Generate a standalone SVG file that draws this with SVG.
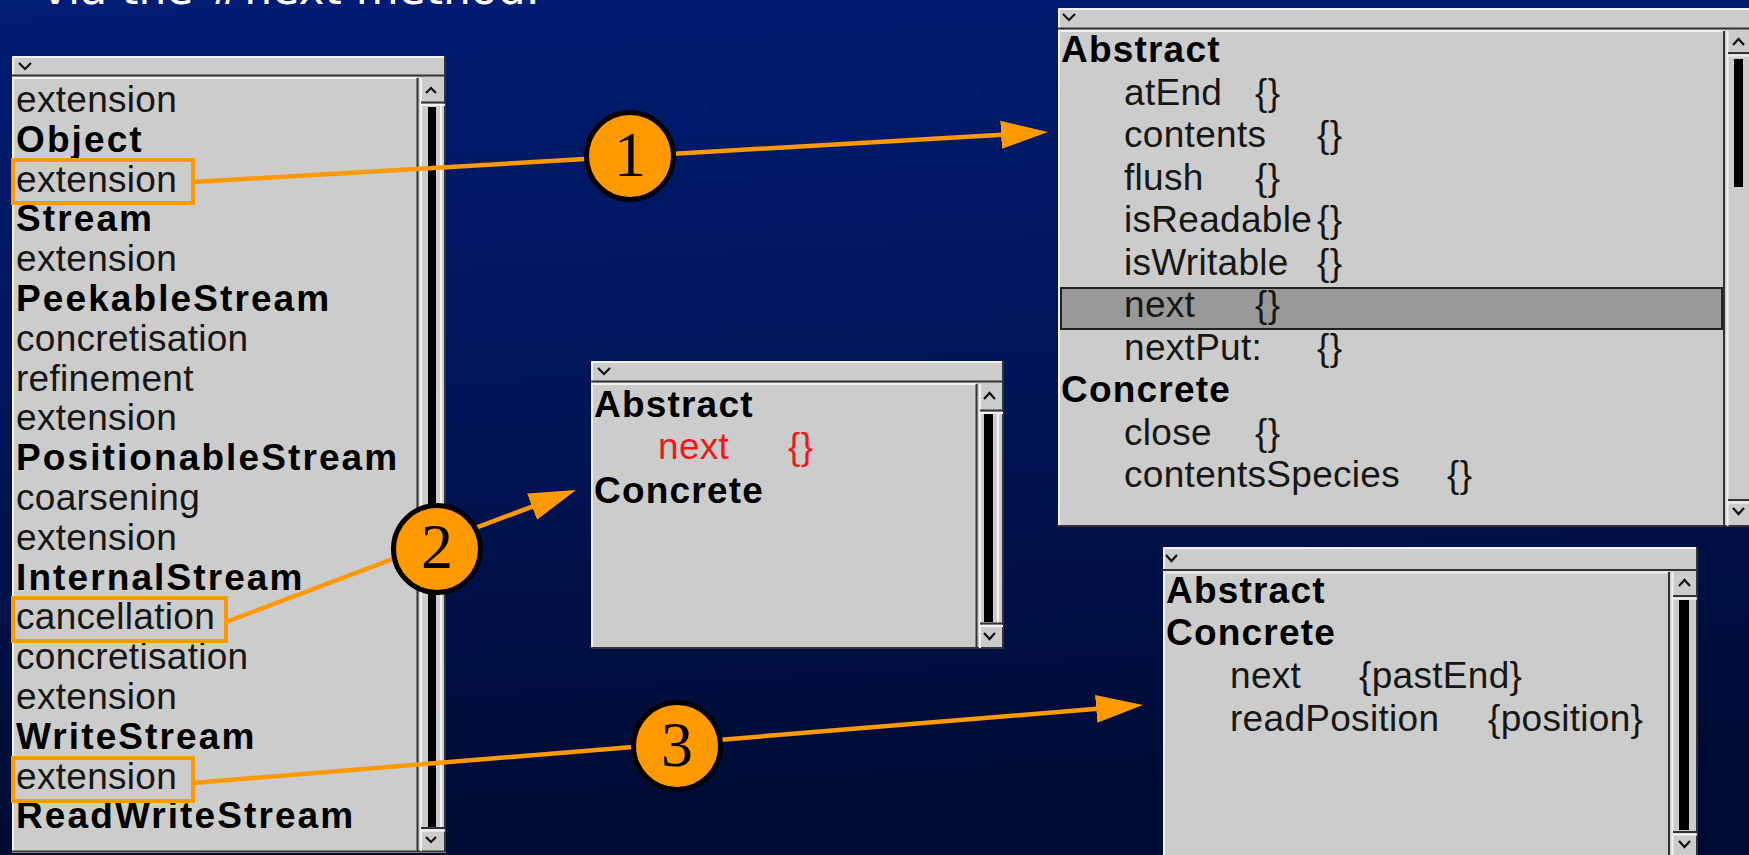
<svg xmlns="http://www.w3.org/2000/svg" width="1749" height="855" viewBox="0 0 1749 855">
<defs>
  <linearGradient id="bg" x1="0" y1="0" x2="0.12" y2="1">
    <stop offset="0" stop-color="#001d74"/>
    <stop offset="0.5" stop-color="#001558"/>
    <stop offset="1" stop-color="#000b33"/>
  </linearGradient>
  <marker id="head" markerUnits="userSpaceOnUse" markerWidth="48" markerHeight="30" viewBox="0 0 48 30" refX="1" refY="15" orient="auto">
    <path d="M0,1 L47,15 L0,29 z" fill="#ff9900"/>
  </marker>
  <style>
    .win { fill:#cccccc; }
    .dk { stroke:#333333; stroke-width:2; fill:none; }
    .lt { stroke:#f2f2f2; stroke-width:2; fill:none; }
    .thumb { fill:#000000; }
    .chev { fill:none; stroke:#111111; stroke-width:2.2; }
    .n { font-family:"Liberation Sans", Arial, sans-serif; font-size:37px; fill:#161616; letter-spacing:0.3px; }
    .b { font-family:"Liberation Sans", Arial, sans-serif; font-size:37px; font-weight:bold; fill:#000000; letter-spacing:1.2px; }
    .bl { letter-spacing:2.1px; }
    .red { fill:#f01818; }
    .sel { fill:#999999; stroke:#222222; stroke-width:2; }
    .hl { fill:none; stroke:#ff9900; stroke-width:4; }
    .conn { fill:none; stroke:#ff9900; stroke-width:4.5; marker-end:url(#head); }
    .badge { fill:#ff9900; stroke:#000000; stroke-width:5; }
    .num { font-family:"Liberation Serif", "Times New Roman", serif; font-size:64px; fill:#000000; text-anchor:middle; }
    .title { font-family:"DejaVu Sans", sans-serif; font-size:44px; fill:#ffffff; }
  </style>
</defs>

<!-- backdrop -->
<rect x="0" y="0" width="1749" height="855" fill="url(#bg)"/>

<!-- heading line, mostly above the top edge -->
<g id="heading">
  <text class="title" x="42" y="4">via the #next method.</text>
</g>

<!-- class list window -->
<g id="class-list">
  <rect class="win" x="12" y="56" width="434" height="797"/>
  <line class="lt" x1="13" y1="57" x2="445" y2="57"/>
  <line class="lt" x1="13" y1="57" x2="13" y2="851"/>
  <line class="dk" x1="12" y1="75.5" x2="446" y2="75.5"/>
  <line class="lt" x1="13" y1="78" x2="417" y2="78"/>
  <line class="dk" x1="445" y1="56" x2="445" y2="852"/>
  <line class="dk" x1="12" y1="851.5" x2="446" y2="851.5"/>
  <polyline class="chev" points="19,63 25,69 31,63"/>
  <!-- scrollbar -->
  <line class="dk" x1="417.5" y1="78" x2="417.5" y2="851"/>
  <line class="lt" x1="421" y1="78" x2="421" y2="851"/>
  <polyline class="chev" points="426,93 431,88 436,93"/>
  <line class="dk" x1="421" y1="102.5" x2="445" y2="102.5"/>
  <line class="lt" x1="421" y1="105" x2="445" y2="105"/>
  <line class="lt" x1="441" y1="105" x2="441" y2="827"/>
  <rect class="thumb" x="428" y="107" width="8" height="720"/>
  <line class="dk" x1="421" y1="828" x2="445" y2="828"/>
  <line class="lt" x1="421" y1="830.5" x2="445" y2="830.5"/>
  <polyline class="chev" points="426,837 431,842 436,837"/>
  <!-- entries -->
  <text class="n" x="16" y="112">extension</text>
  <text class="b bl" x="16" y="151.8">Object</text>
  <text class="n" x="16" y="191.6">extension</text>
  <text class="b bl" x="16" y="231.4">Stream</text>
  <text class="n" x="16" y="271.2">extension</text>
  <text class="b bl" x="16" y="311">PeekableStream</text>
  <text class="n" x="16" y="350.8">concretisation</text>
  <text class="n" x="16" y="390.6">refinement</text>
  <text class="n" x="16" y="430.4">extension</text>
  <text class="b bl" x="16" y="470.2">PositionableStream</text>
  <text class="n" x="16" y="510">coarsening</text>
  <text class="n" x="16" y="549.8">extension</text>
  <text class="b bl" x="16" y="589.6">InternalStream</text>
  <text class="n" x="16" y="629.4">cancellation</text>
  <text class="n" x="16" y="669.2">concretisation</text>
  <text class="n" x="16" y="709">extension</text>
  <text class="b bl" x="16" y="748.8">WriteStream</text>
  <text class="n" x="16" y="788.6">extension</text>
  <text class="b bl" x="16" y="828.4">ReadWriteStream</text>
  <!-- marked entries -->
  <rect class="hl" x="13" y="160" width="180" height="43"/>
  <rect class="hl" x="13" y="598" width="213" height="43"/>
  <rect class="hl" x="13" y="758" width="180" height="43"/>
</g>

<!-- method window: Object extension -->
<g id="methods-object">
  <rect class="win" x="1058" y="8" width="700" height="519"/>
  <line class="lt" x1="1059" y1="9" x2="1749" y2="9"/>
  <line class="lt" x1="1059" y1="9" x2="1059" y2="526"/>
  <line class="dk" x1="1058" y1="28.5" x2="1749" y2="28.5"/>
  <line class="lt" x1="1059" y1="31" x2="1724" y2="31"/>
  <line class="dk" x1="1058" y1="526" x2="1749" y2="526"/>
  <polyline class="chev" points="1063,14 1069,20 1075,14"/>
  <line class="dk" x1="1724" y1="31" x2="1724" y2="526"/>
  <line class="lt" x1="1727.5" y1="31" x2="1727.5" y2="526"/>
  <polyline class="chev" points="1733,45 1738.5,39 1744,45"/>
  <line class="dk" x1="1728" y1="53" x2="1749" y2="53"/>
  <line class="lt" x1="1728" y1="55.5" x2="1749" y2="55.5"/>
  <rect class="thumb" x="1734" y="59" width="9" height="128"/>
  <line class="dk" x1="1728" y1="500" x2="1749" y2="500"/>
  <line class="lt" x1="1728" y1="502.5" x2="1749" y2="502.5"/>
  <polyline class="chev" points="1733,508 1738.5,514 1744,508"/>
  <rect class="sel" x="1061" y="288" width="661" height="41"/>
  <text class="b" x="1061" y="62">Abstract</text>
  <text class="n" x="1124" y="104.5">atEnd</text><text class="n" x="1255" y="104.5">{}</text>
  <text class="n" x="1124" y="147">contents</text><text class="n" x="1317" y="147">{}</text>
  <text class="n" x="1124" y="189.5">flush</text><text class="n" x="1255" y="189.5">{}</text>
  <text class="n" x="1124" y="232">isReadable</text><text class="n" x="1317" y="232">{}</text>
  <text class="n" x="1124" y="274.5">isWritable</text><text class="n" x="1317" y="274.5">{}</text>
  <text class="n" x="1124" y="317">next</text><text class="n" x="1255" y="317">{}</text>
  <text class="n" x="1124" y="359.5">nextPut:</text><text class="n" x="1317" y="359.5">{}</text>
  <text class="b" x="1061" y="402">Concrete</text>
  <text class="n" x="1124" y="444.5">close</text><text class="n" x="1255" y="444.5">{}</text>
  <text class="n" x="1124" y="487">contentsSpecies</text><text class="n" x="1447" y="487">{}</text>
</g>

<!-- method window: InternalStream cancellation -->
<g id="methods-cancellation">
  <rect class="win" x="591" y="361" width="413" height="288"/>
  <line class="lt" x1="592" y1="362" x2="1003" y2="362"/>
  <line class="lt" x1="592" y1="362" x2="592" y2="648"/>
  <line class="dk" x1="591" y1="381.5" x2="1004" y2="381.5"/>
  <line class="lt" x1="592" y1="384" x2="976" y2="384"/>
  <line class="dk" x1="1003" y1="361" x2="1003" y2="649"/>
  <line class="dk" x1="591" y1="648" x2="1004" y2="648"/>
  <polyline class="chev" points="598,368 604,374 610,368"/>
  <line class="dk" x1="976.5" y1="384" x2="976.5" y2="648"/>
  <line class="lt" x1="980" y1="384" x2="980" y2="648"/>
  <polyline class="chev" points="984,399 989.5,393 995,399"/>
  <line class="dk" x1="980" y1="410.5" x2="1003" y2="410.5"/>
  <line class="lt" x1="980" y1="413" x2="1003" y2="413"/>
  <line class="lt" x1="998" y1="413" x2="998" y2="623"/>
  <rect class="thumb" x="984" y="414" width="9" height="208"/>
  <line class="dk" x1="980" y1="623.5" x2="1003" y2="623.5"/>
  <line class="lt" x1="980" y1="626" x2="1003" y2="626"/>
  <polyline class="chev" points="984,633 989.5,639 995,633"/>
  <text class="b" x="594" y="417">Abstract</text>
  <text class="n red" x="658" y="459">next</text><text class="n red" x="788" y="459">{}</text>
  <text class="b" x="594" y="503">Concrete</text>
</g>

<!-- method window: WriteStream extension -->
<g id="methods-write">
  <rect class="win" x="1163" y="547" width="535" height="320"/>
  <line class="lt" x1="1164" y1="548" x2="1697" y2="548"/>
  <line class="lt" x1="1164" y1="548" x2="1164" y2="855"/>
  <line class="dk" x1="1163" y1="570" x2="1698" y2="570"/>
  <line class="lt" x1="1164" y1="572.5" x2="1669" y2="572.5"/>
  <line class="dk" x1="1697" y1="547" x2="1697" y2="855"/>
  <polyline class="chev" points="1166,555 1171.5,561 1177,555"/>
  <line class="dk" x1="1669" y1="572" x2="1669" y2="855"/>
  <line class="lt" x1="1672.5" y1="572" x2="1672.5" y2="855"/>
  <polyline class="chev" points="1679,586 1684.5,580 1690,586"/>
  <line class="dk" x1="1673" y1="596" x2="1697" y2="596"/>
  <line class="lt" x1="1673" y1="598.5" x2="1697" y2="598.5"/>
  <rect class="thumb" x="1679" y="600" width="10" height="230"/>
  <line class="dk" x1="1673" y1="832" x2="1697" y2="832"/>
  <line class="lt" x1="1673" y1="834.5" x2="1697" y2="834.5"/>
  <polyline class="chev" points="1679,841 1684.5,847 1690,841"/>
  <text class="b" x="1166" y="603">Abstract</text>
  <text class="b" x="1166" y="645">Concrete</text>
  <text class="n" x="1230" y="688">next</text><text class="n" x="1359" y="688">{pastEnd}</text>
  <text class="n" x="1230" y="731">readPosition</text><text class="n" x="1488" y="731">{position}</text>
</g>

<!-- connectors from marked entries to their method windows -->
<g id="connectors">
  <path class="conn" d="M193,182 L1002.1,134.7"/>
  <path class="conn" d="M226,622 L533,506.3"/>
  <path class="conn" d="M193,783 L1097.2,708.8"/>
</g>

<!-- numbered badges on the connectors -->
<g id="badge-1">
  <circle class="badge" cx="630" cy="156" r="43.5"/>
  <text class="num" x="630" y="176">1</text>
</g>
<g id="badge-2">
  <circle class="badge" cx="437" cy="549" r="43.5"/>
  <text class="num" x="437" y="568">2</text>
</g>
<g id="badge-3">
  <circle class="badge" cx="677" cy="746" r="43.5"/>
  <text class="num" x="677" y="766">3</text>
</g>
</svg>
